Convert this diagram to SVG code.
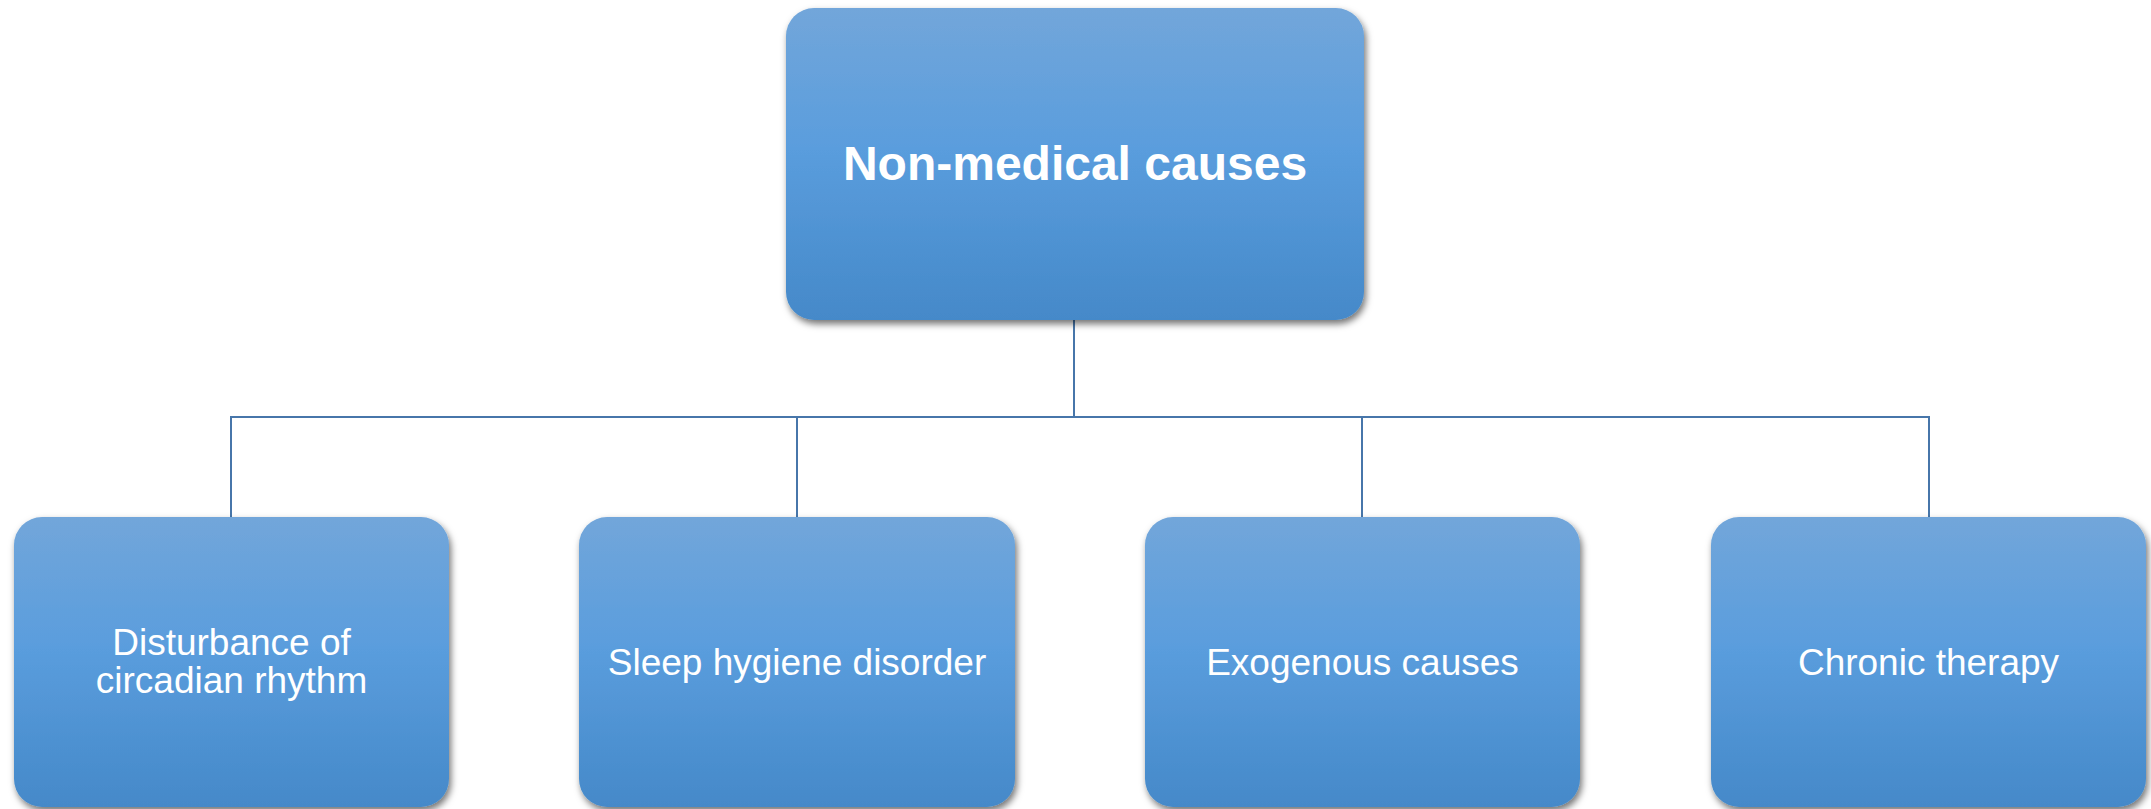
<svg xmlns="http://www.w3.org/2000/svg" width="2151" height="809" viewBox="0 0 2151 809">
  <style>
    .box { fill: url(#boxFill); filter: url(#shadow); }
    .link { fill: none; stroke: #4776aa; stroke-width: 2; }
    .title { font-family: "Liberation Sans", Arial, sans-serif; font-weight: bold; font-size: 48px; fill: #ffffff; text-anchor: middle; }
    .label { font-family: "Liberation Sans", Arial, sans-serif; font-size: 37px; fill: #ffffff; text-anchor: middle; }
  </style>
  <defs>
    <linearGradient id="boxFill" x1="0" y1="0" x2="0" y2="1">
      <stop offset="0" stop-color="#72a6da"/>
      <stop offset="0.45" stop-color="#5a9ddd"/>
      <stop offset="1" stop-color="#4589c9"/>
    </linearGradient>
    <filter id="shadow" x="-5%" y="-5%" width="112%" height="118%">
      <feDropShadow dx="2" dy="4" stdDeviation="3.5" flood-color="#000000" flood-opacity="0.55"/>
    </filter>
  </defs>
  <rect width="2151" height="809" fill="#ffffff"/>

  <!-- tree connectors -->
  <g id="connectors">
    <path class="link" d="M1074 320 V417"/>
    <path class="link" d="M231 517 V417 H1929 V517"/>
    <path class="link" d="M797 417 V517"/>
    <path class="link" d="M1362 417 V517"/>
  </g>

  <g id="root">
    <rect class="box" x="786" y="8" width="578" height="312" rx="28" ry="28"/>
    <text class="title" x="1075" y="180">Non-medical causes</text>
  </g>

  <g id="circadian">
    <rect class="box" x="14" y="517" width="435" height="290" rx="28" ry="28"/>
    <text class="label" x="231.5" y="655">Disturbance of</text>
    <text class="label" x="231.5" y="693">circadian rhythm</text>
  </g>

  <g id="hygiene">
    <rect class="box" x="579" y="517" width="436" height="290" rx="28" ry="28"/>
    <text class="label" x="797" y="675">Sleep hygiene disorder</text>
  </g>

  <g id="exogenous">
    <rect class="box" x="1145" y="517" width="435" height="290" rx="28" ry="28"/>
    <text class="label" x="1362.5" y="675">Exogenous causes</text>
  </g>

  <g id="chronic">
    <rect class="box" x="1711" y="517" width="435" height="290" rx="28" ry="28"/>
    <text class="label" x="1928.5" y="675">Chronic therapy</text>
  </g>
</svg>
